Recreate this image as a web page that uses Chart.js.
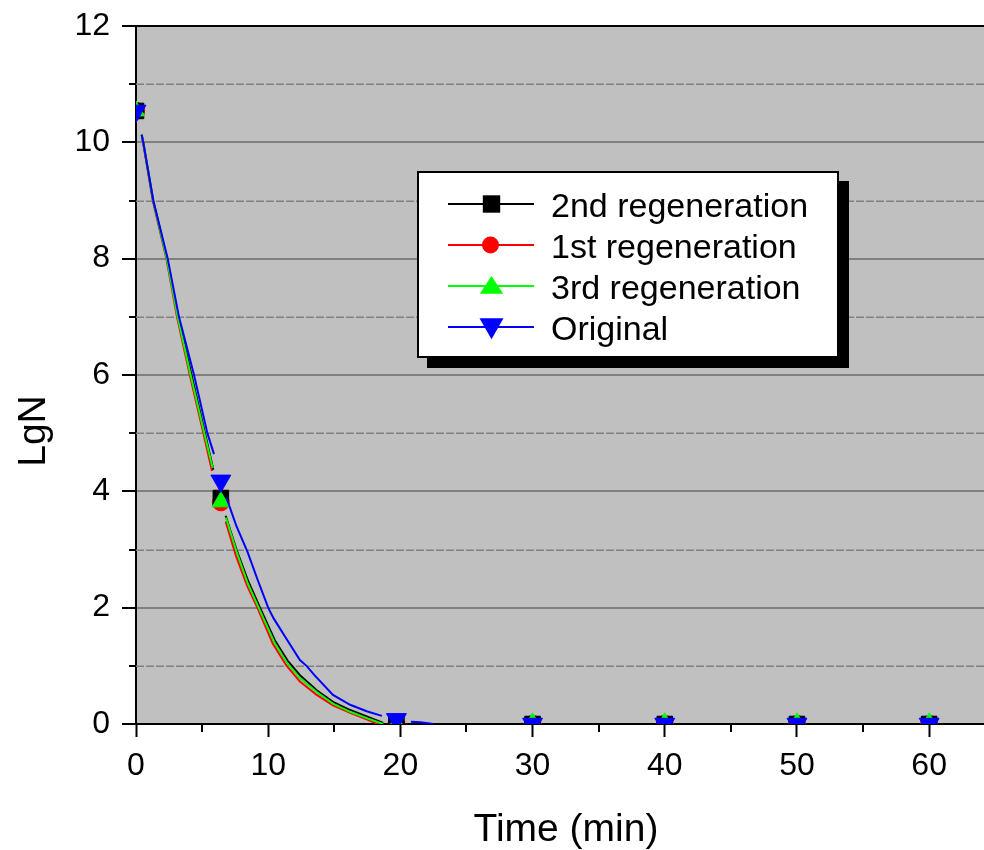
<!DOCTYPE html>
<html><head><meta charset="utf-8">
<script src="https://cdn.jsdelivr.net/npm/chart.js@4.4.1/dist/chart.umd.min.js"></script>
<style>html,body{margin:0;padding:0;background:#fff;} #wrap{width:984px;height:850px;}</style>
</head><body><div id="wrap"><canvas id="c" width="984" height="850"></canvas></div>
<script>
// ---- data ----
const markerTime = [0, 6.42, 19.7, 30, 40, 50, 60];
const regen2nd  = [10.54, 3.885, 0, 0, 0, 0, 0];
const regen1st  = [10.54, 3.81, 0, 0, 0, 0, 0];
const regen3rd  = [10.54, 3.82, 0, 0.02, 0.02, 0.02, 0.02];
const original  = [10.54, 4.18, 0.08, 0, 0, 0, 0];

// connecting curves (drawn with gaps at the symbols)
const black1T = [0.43, 0.55, 1.3, 2.35, 3.2, 4.2, 5.22, 5.85];
const black1Y = [10.13, 10, 9, 8, 7, 6, 5, 4.37];
const red1T   = [0.43, 0.53, 1.27, 2.3, 3.1, 4.07, 5.1, 5.75];
const red1Y   = [10.13, 10, 9, 8, 7, 6, 5, 4.35];
const green1T = [0.43, 0.55, 1.3, 2.33, 3.15, 4.13, 5.17, 5.8];
const green1Y = [10.13, 10, 9, 8, 7, 6, 5, 4.4];
const blue1T  = [0.43, 0.55, 1.31, 2.4, 3.25, 4.39, 5.4, 5.9];
const blue1Y  = [10.13, 10, 9, 8, 7, 6, 5, 4.64];

const black2T = [6.78, 7.6, 8.5, 9.38, 10.5, 11.5, 12.4, 13.67, 14.9, 16.2, 17.45, 18.7];
const black2Y = [3.58, 3.0, 2.45, 2.0, 1.44, 1.08, 0.84, 0.58, 0.38, 0.24, 0.13, 0.02];
const red2T   = [6.78, 7.55, 8.4, 9.18, 10.35, 11.4, 12.4, 13.67, 14.9, 16.2, 17.45, 18.3];
const red2Y   = [3.48, 2.9, 2.38, 2.0, 1.38, 1.0, 0.73, 0.5, 0.32, 0.19, 0.08, 0.0];
const green2T = [6.8, 7.6, 8.45, 9.28, 10.45, 11.45, 12.4, 13.67, 14.9, 16.2, 17.45, 18.7];
const green2Y = [3.55, 2.97, 2.42, 2.0, 1.41, 1.04, 0.79, 0.55, 0.35, 0.21, 0.1, 0.0];
const blue2T  = [6.86, 7.6, 8.45, 9.2, 10.0, 10.4, 11.45, 12.4, 12.9, 13.5, 14.9, 16.2, 17.45, 18.6];
const blue2Y  = [3.88, 3.4, 2.95, 2.48, 2.0, 1.82, 1.44, 1.1, 1.0, 0.84, 0.5, 0.33, 0.22, 0.14];
const blue3T  = [20.8, 21.5, 22.5];
const blue3Y  = [0.04, 0.03, 0.0];

const xMajorTicks = [0, 10, 20, 30, 40, 50, 60];
const xMinorTicks = [5, 15, 25, 35, 45, 55];
const yMajorTicks = [0, 2, 4, 6, 8, 10, 12];
const yMinorTicks = [1, 3, 5, 7, 9, 11];

const xTitle = 'Time (min)';
const yTitle = 'LgN';
const seriesNames = ['2nd regeneration', '1st regeneration', '3rd regeneration', 'Original'];
const seriesColors = ['#000000', '#ff0000', '#00ff00', '#0000ff'];

// ---- helpers ----
const pts = (t, v) => t.map((tt, i) => ({x: tt, y: v[i]}));
const FONT = "'Liberation Sans', Arial, sans-serif";

function curve(t, v, color, order) {
  return {label: '_fit', data: pts(t, v), showLine: true, borderColor: color, borderWidth: 2,
          pointRadius: 0, pointHoverRadius: 0, order: order, clip: 0, tension: 0};
}
function marks(v, color, style, r, rot, order) {
  return {label: '_mark', data: pts(markerTime, v), showLine: false, pointStyle: style,
          pointRadius: r, pointHoverRadius: r, pointRotation: rot, backgroundColor: color,
          borderColor: color, pointBorderWidth: 1, order: order, clip: 0};
}

const decor = {
  id: 'decor',
  beforeDraw(chart) {
    const {ctx, chartArea: a} = chart;
    ctx.save();
    ctx.fillStyle = '#c0c0c0';
    ctx.fillRect(a.left, a.top, a.right - a.left, a.bottom - a.top);
    ctx.restore();
  },
  beforeDatasetsDraw(chart) {
    const {ctx, chartArea: a, scales: {x, y}} = chart;
    const line = (x1, y1, x2, y2) => { ctx.beginPath(); ctx.moveTo(x1, y1); ctx.lineTo(x2, y2); ctx.stroke(); };
    ctx.save();
    ctx.strokeStyle = '#808080'; ctx.lineWidth = 1.5; ctx.setLineDash([8, 2]);
    yMinorTicks.forEach(v => { const py = Math.round(y.getPixelForValue(v)) + 0.25; line(a.left, py, a.right, py); });
    ctx.setLineDash([]);
    ctx.strokeStyle = '#000'; ctx.lineWidth = 2;
    yMinorTicks.forEach(v => { const py = Math.round(y.getPixelForValue(v)); line(a.left - 7, py, a.left, py); });
    xMinorTicks.forEach(v => { const px = Math.round(x.getPixelForValue(v)); line(px, a.bottom, px, a.bottom + 8); });
    line(a.left - 1, a.top, a.right, a.top);
    // axis titles
    ctx.fillStyle = '#000';
    ctx.font = '39px ' + FONT;
    ctx.textAlign = 'center'; ctx.textBaseline = 'middle';
    ctx.fillText(xTitle, (a.left + a.right) / 2 + 6, 830);
    ctx.translate(34, (a.top + a.bottom) / 2 + 56);
    ctx.rotate(-Math.PI / 2);
    ctx.fillText(yTitle, 0, 0);
    ctx.restore();
  },
  afterDraw(chart) {
    const {ctx, chartArea: a} = chart;
    const bx = a.left + 282, by = a.top + 146, bw = 420, bh = 185;
    ctx.save();
    ctx.fillStyle = '#000';
    ctx.fillRect(bx + 9, by + 9, bw + 2, bh + 2);
    ctx.fillStyle = '#fff';
    ctx.fillRect(bx, by, bw, bh);
    ctx.strokeStyle = '#000'; ctx.lineWidth = 2;
    ctx.strokeRect(bx, by, bw, bh);
    const rows = [32, 73, 114, 155];
    const lx1 = bx + 30, lx2 = bx + 116, mx = bx + 73.5, tx = bx + 133;
    ctx.font = '34px ' + FONT;
    ctx.textBaseline = 'alphabetic';
    rows.forEach((ry, i) => {
      const yy = by + ry, col = seriesColors[i];
      ctx.strokeStyle = col; ctx.lineWidth = 2;
      ctx.beginPath(); ctx.moveTo(lx1, yy); ctx.lineTo(lx2, yy); ctx.stroke();
      ctx.fillStyle = col;
      ctx.beginPath();
      if (i === 0) { ctx.rect(mx - 8.7, yy - 8.7, 17.4, 17.4); }
      else if (i === 1) { ctx.arc(mx - 1, yy, 8.5, 0, Math.PI * 2); }
      else if (i === 2) { ctx.moveTo(mx, yy - 10); ctx.lineTo(mx + 11.7, yy + 7.7); ctx.lineTo(mx - 11.7, yy + 7.7); ctx.closePath(); }
      else { ctx.moveTo(mx - 12, yy - 8.7); ctx.lineTo(mx + 12, yy - 8.7); ctx.lineTo(mx, yy + 12.3); ctx.closePath(); }
      ctx.fill();
      ctx.fillStyle = '#000';
      ctx.fillText(seriesNames[i], tx, yy + 12.5);
    });
    ctx.restore();
  }
};

const tickFont = {family: FONT, size: 32};

new Chart(document.getElementById('c'), {
  type: 'scatter',
  data: {
    datasets: [
      curve(blue1T, blue1Y, seriesColors[3], 0),
      curve(blue2T, blue2Y, seriesColors[3], 0),
      curve(blue3T, blue3Y, seriesColors[3], 0),
      curve(green1T, green1Y, seriesColors[2], 1),
      curve(green2T, green2Y, seriesColors[2], 1),
      curve(black1T, black1Y, seriesColors[0], 2),
      curve(black2T, black2Y, seriesColors[0], 2),
      curve(red1T, red1Y, seriesColors[1], 3),
      curve(red2T, red2Y, seriesColors[1], 3),
      marks(original, seriesColors[3], 'triangle', 11.5, 180, 0),
      marks(regen3rd, seriesColors[2], 'triangle', 10, 0, 1),
      marks(regen2nd, seriesColors[0], 'rect', 11, 0, 2),
      marks(regen1st, seriesColors[1], 'circle', 8.5, 0, 3)
    ]
  },
  options: {
    responsive: false, devicePixelRatio: 1, animation: false,
    layout: {autoPadding: false, padding: {top: 26, right: 0, left: 0, bottom: 0}},
    plugins: {legend: {display: false}, tooltip: {enabled: false}},
    events: [],
    scales: {
      x: {
        type: 'linear', min: 0, max: 64.15,
        afterBuildTicks: s => { s.ticks = xMajorTicks.map(v => ({value: v})); },
        afterFit: s => { s.height = 126; s.paddingLeft = 0; s.paddingRight = 0; },
        ticks: {font: tickFont, color: '#000', padding: 10, maxRotation: 0, includeBounds: false},
        grid: {drawOnChartArea: false, drawTicks: true, tickLength: 13, tickWidth: 2, tickColor: '#000'},
        border: {display: true, color: '#000', width: 2},
        title: {display: false}
      },
      y: {
        type: 'linear', min: 0, max: 12,
        afterBuildTicks: s => { s.ticks = yMajorTicks.map(v => ({value: v})); },
        afterFit: s => { s.width = 136; s.paddingTop = 0; s.paddingBottom = 0; },
        ticks: {font: tickFont, color: '#000', padding: 12, includeBounds: false},
        grid: {
          color: c => (c.tick && (c.tick.value === 0 || c.tick.value === 12)) ? 'rgba(0,0,0,0)' : '#808080',
          lineWidth: 2, drawTicks: true, tickLength: 14, tickWidth: 2, tickColor: '#000'
        },
        border: {display: true, color: '#000', width: 2},
        title: {display: false}
      }
    }
  },
  plugins: [decor]
});
</script></body></html>
